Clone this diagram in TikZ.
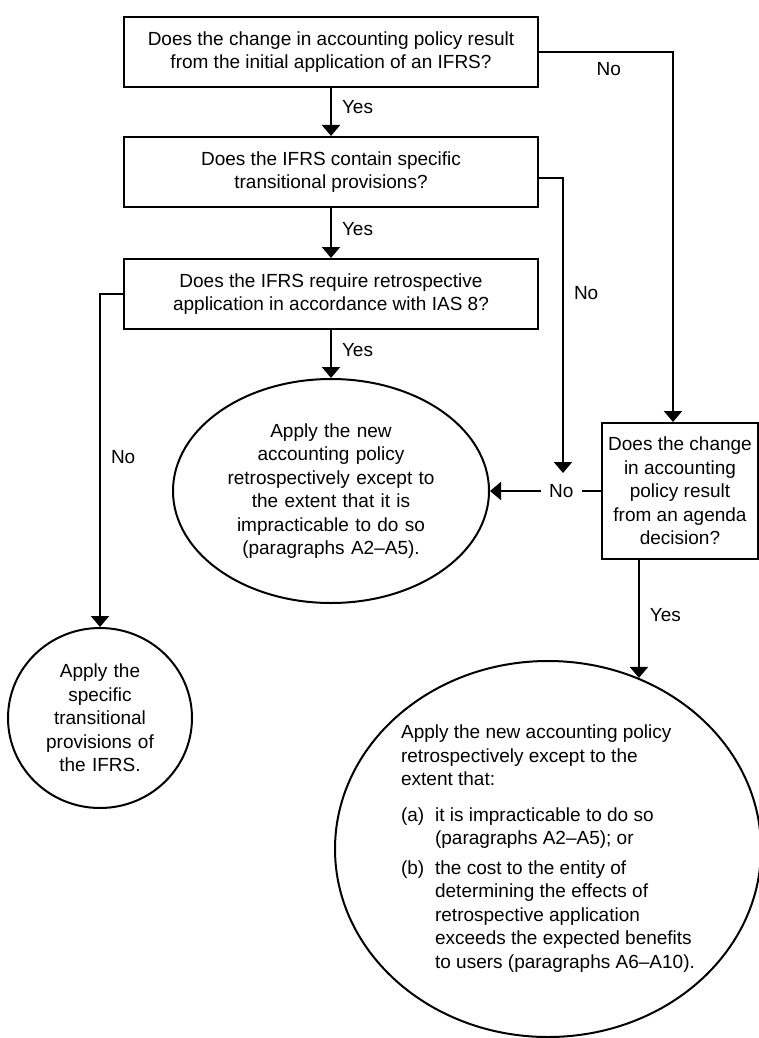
\documentclass[tikz,border=0pt]{standalone}
\usepackage{fontspec}
\setmainfont{Liberation Sans}
\usetikzlibrary{arrows.meta,shapes.geometric}
\begin{document}
\begin{tikzpicture}[x=1pt,y=-1pt,
  every node/.style={font=\fontsize{19}{23.5}\selectfont},
  qbox/.style={draw,line width=2pt,rectangle,align=center,inner sep=0pt},
  oval/.style={draw,line width=2pt,ellipse,align=center,inner sep=0pt},
  conn/.style={line width=2pt,-{Triangle[width=18pt,length=11pt]}},
  lab/.style={inner sep=0pt}
]
\fill[white] (0,0) rectangle (758,1038);
\useasboundingbox (0,0) rectangle (758,1038);

% decision boxes
\node[qbox,minimum width=414pt,minimum height=70pt] (b1) at (331,52)
  {Does the change in accounting policy result\\from the initial application of an IFRS?};
\node[qbox,minimum width=414pt,minimum height=70pt] (b2) at (331,172)
  {Does the IFRS contain specific\\transitional provisions?};
\node[qbox,minimum width=414pt,minimum height=70pt] (b3) at (331,294)
  {Does the IFRS require retrospective\\application in accordance with IAS 8?};
\node[qbox,minimum width=156pt,minimum height=136pt] (b4) at (680,491)
  {Does the change\\in accounting\\policy result\\from an agenda\\decision?};

% outcome ellipses
\node[oval,minimum width=316pt,minimum height=224pt,text width=210pt] (e1) at (331,491)
  {Apply the new\\accounting policy\\retrospectively except to\\the extent that it is\\impracticable to do so\\(paragraphs A2–A5).};
\node[oval,minimum width=184pt,minimum height=180pt,text width=112pt] (e2) at (100,718)
  {Apply the\\specific\\transitional\\provisions of\\the IFRS.};
\node[oval,minimum width=426pt,minimum height=376pt] (e3) at (548,849)
  {\begin{tabular}{@{}p{34pt}@{}l@{}}
   \multicolumn{2}{@{}l@{}}{Apply the new accounting policy}\\
   \multicolumn{2}{@{}l@{}}{retrospectively except to the}\\
   \multicolumn{2}{@{}l@{}}{extent that:}\\[12pt]
   (a) & it is impracticable to do so\\
       & (paragraphs A2–A5); or\\[6pt]
   (b) & the cost to the entity of\\
       & determining the effects of\\
       & retrospective application\\
       & exceeds the expected benefits\\
       & to users (paragraphs A6–A10).
   \end{tabular}};

% connectors
\draw[conn] (b1.south) -- node[lab,pos=0.4,right=10pt]{Yes} (b2.north);
\draw[conn] (b2.south) -- node[lab,pos=0.42,right=10pt]{Yes} (b3.north);
\draw[conn] (b3.south) -- node[lab,pos=0.41,right=10pt]{Yes} (e1.north);

\draw[conn] (b1.east) -| node[lab,pos=0.26,below=9pt]{No} ([xshift=-7pt]b4.north);

\coordinate (k2) at (563,473);
\draw[conn] ([yshift=-6pt]b2.east) -| node[lab,pos=0.695,right=10pt]{No} (k2);

\draw[conn] (b3.west) -| node[lab,pos=0.745,right=10pt]{No} (e2.north);

\draw[conn] (b4.west) -- node[pos=0.357,fill=white,inner xsep=8pt,inner ysep=1pt]{No} (e1.east);

\draw[conn] (b4.south -| e3.62) -- node[lab,pos=0.47,right=10pt]{Yes} (e3.62);
\end{tikzpicture}
\end{document}
